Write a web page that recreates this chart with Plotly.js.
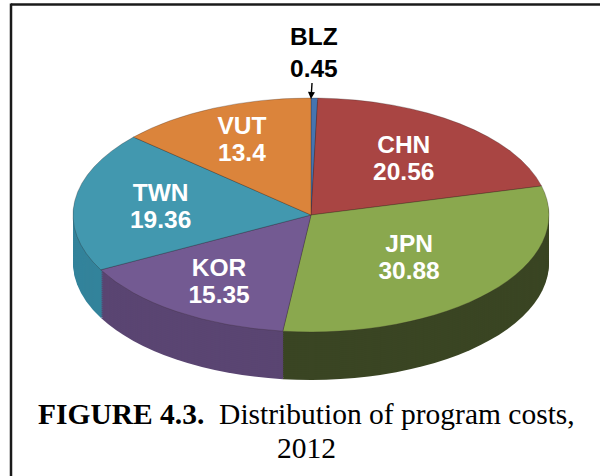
<!DOCTYPE html>
<html><head><meta charset="utf-8">
<script src="https://cdn.plot.ly/plotly-3.0.1.min.js"></script>
<style>html,body{margin:0;padding:0;background:#fff}#chart{width:600px;height:476px}</style>
</head><body><div id="chart"></div>
<script>
const labels = ['BLZ', 'CHN', 'JPN', 'KOR', 'TWN', 'VUT'];
const values = [0.45, 20.56, 30.88, 15.35, 19.36, 13.4];
const topColors = ['#4674B0', '#A94543', '#8AA84E', '#735A92', '#4298AF', '#DB843B'];
const sideColors = ['#2E4F7A', '#6E2C2B', '#3A4523', '#5A4572', '#33839B', '#A8622B'];
const textPositions = ['none', 'inside', 'inside', 'inside', 'inside', 'inside'];
const captionBold = 'FIGURE 4.3.';
const captionText = 'Distribution of program costs,';
const captionYear = '2012';

// 3D look: darker copies of the pie stacked below the top surface
const depthSteps = [];
for (let d = 48; d > 0; d -= 2) depthSteps.push(d);
const data = [];
depthSteps.forEach(() => data.push({
  type: 'pie', labels: labels, values: values, sort: false, direction: 'clockwise', rotation: 0,
  marker: {colors: sideColors, line: {width: 0}}, textinfo: 'none', hoverinfo: 'skip',
  domain: {x: [0, 1], y: [0, 1]}, showlegend: false
}));
data.push({
  type: 'pie', labels: labels, values: values, sort: false, direction: 'clockwise', rotation: 0,
  marker: {colors: topColors, line: {color: 'rgba(40,30,30,0.45)', width: 0.8}},
  texttemplate: '%{label}<br>%{value}', textposition: textPositions,
  insidetextorientation: 'horizontal',
  textfont: {family: 'Liberation Sans, Arial, sans-serif', size: 24.5, color: '#ffffff', weight: 'bold'},
  hoverinfo: 'skip', domain: {x: [0, 1], y: [0, 1]}, showlegend: false
});

const captionFont = {family: 'Liberation Serif, Times New Roman, serif', size: 29.5, color: '#000'};
const layout = {
  width: 600, height: 476, margin: {l: 0, r: 0, t: 0, b: 0},
  paper_bgcolor: '#ffffff', showlegend: false,
  shapes: [
    {type: 'line', xref: 'paper', yref: 'paper', x0: 11/600, x1: 1, y0: 1 - 4.5/476, y1: 1 - 4.5/476,
     line: {color: '#1a1a1a', width: 2.5}},
    {type: 'line', xref: 'paper', yref: 'paper', x0: 11/600, x1: 11/600, y0: 0, y1: 1 - 3.5/476,
     line: {color: '#1a1a1a', width: 2.5}}
  ],
  annotations: [
    {xref: 'paper', yref: 'paper', x: 311/600, y: 1 - 99/476, ax: 3, ay: -47,
     text: labels[0] + '<br>' + values[0], showarrow: true, arrowhead: 2, arrowsize: 1, arrowwidth: 1.4,
     arrowcolor: '#000', standoff: 0,
     font: {family: 'Liberation Sans, Arial, sans-serif', size: 24.5, color: '#000', weight: 'bold'}},
    {xref: 'paper', yref: 'paper', x: 306/600, y: 1 - 414/476, xanchor: 'center', yanchor: 'middle',
     showarrow: false, text: '<b>' + captionBold + '</b>\u00a0 ' + captionText, font: captionFont},
    {xref: 'paper', yref: 'paper', x: 306/600, y: 1 - 448/476, xanchor: 'center', yanchor: 'middle',
     showarrow: false, text: captionYear, font: captionFont}
  ]
};

Plotly.newPlot('chart', data, layout, {staticPlot: true}).then(gd => {
  const cxT = 311, cyT = 215, semiY = 117, lineSpacing = 1.1;
  const traces = gd.querySelectorAll('.pielayer .trace');
  traces.forEach((tr, i) => {
    const cd0 = gd.calcdata[i][0];
    const cx = cd0.cx, cy = cd0.cy;
    const kk = semiY / cd0.r;
    const off = i < depthSteps.length ? depthSteps[i] : 0;
    const tf = 'translate(' + cxT + ',' + (cyT + off) + ') scale(1,' + kk + ') translate(' + (-cx) + ',' + (-cy) + ')';
    tr.querySelectorAll('path.surface').forEach(p => p.setAttribute('transform', tf));
    tr.querySelectorAll('g.slicetext').forEach(g => {
      const b0 = g.getBBox();
      const bx = b0.x + b0.width / 2, by = b0.y + b0.height / 2;
      g.querySelectorAll('tspan.line').forEach(ts => {
        const dy = parseFloat(ts.getAttribute('dy') || '0');
        ts.setAttribute('dy', (dy / 1.3 * lineSpacing) + 'em');
      });
      const b1 = g.getBBox();
      const cx1 = b1.x + b1.width / 2, cy1 = b1.y + b1.height / 2;
      const nx = cxT + (bx - cx), ny = cyT + off + (by - cy) * kk;
      g.setAttribute('transform', 'translate(' + (nx - cx1) + ',' + (ny - cy1) + ')');
    });
  });
});
</script>
</body></html>
